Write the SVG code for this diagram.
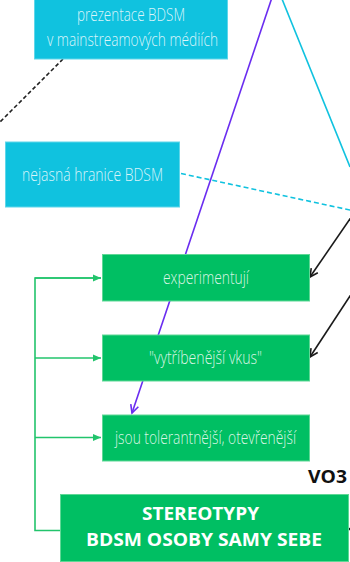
<svg xmlns="http://www.w3.org/2000/svg" width="350" height="562" viewBox="0 0 350 562">
<style>
.cy{fill:#10c2df;stroke:#5fd6ea;stroke-width:1}
.gr{fill:#00bf63;stroke:#5fd896;stroke-width:1}
.lt{font-family:"Open Sans","Liberation Sans",sans-serif;font-weight:300;font-size:18px;fill:#ffffff;fill-opacity:0.85}
.bd{font-family:"Open Sans","Liberation Sans",sans-serif;font-weight:700;font-size:18px;fill:#ffffff}
.gc{stroke:#22c46c;stroke-width:1.6;fill:none}
</style>
<defs>
<marker id="ab" markerUnits="userSpaceOnUse" markerWidth="12" markerHeight="12" refX="10" refY="6" orient="auto"><path d="M2,2 L10,6 L2,10" fill="none" stroke="#1a1a1a" stroke-width="1.6"/></marker>
<marker id="ap" markerUnits="userSpaceOnUse" markerWidth="12" markerHeight="12" refX="10" refY="6" orient="auto"><path d="M2,2 L10,6 L2,10" fill="none" stroke="#6a2cf0" stroke-width="1.6"/></marker>
<marker id="ag" markerUnits="userSpaceOnUse" markerWidth="10" markerHeight="10" refX="8" refY="5" orient="auto"><path d="M0,1.5 L8,5 L0,8.5 Z" fill="#22c46c"/></marker>
</defs>
<g id="connectors">
<line x1="63" y1="59" x2="0" y2="122" stroke="#222" stroke-width="1.6" stroke-dasharray="4,2.5"/>
<line x1="181" y1="173.5" x2="352" y2="210.5" stroke="#10c2df" stroke-width="1.6" stroke-dasharray="5,3"/>
<line x1="282" y1="-1" x2="350" y2="167" stroke="#10c2df" stroke-width="1.6"/>
<line x1="271.5" y1="-1" x2="132" y2="413" stroke="#6a2cf0" stroke-width="1.6" marker-end="url(#ap)"/>
<line x1="352" y1="216" x2="310" y2="277" stroke="#1a1a1a" stroke-width="1.6" marker-end="url(#ab)"/>
<line x1="352" y1="293" x2="310" y2="357" stroke="#1a1a1a" stroke-width="1.6" marker-end="url(#ab)"/>
<line x1="360" y1="529" x2="349" y2="529" stroke="#1a1a1a" stroke-width="1.6" marker-end="url(#ab)"/>
<path class="gc" d="M60,530.5 L35,530.5 L35,278 L101,278"/>
<path class="gc" d="M35,278 L101,278" marker-end="url(#ag)"/>
<path class="gc" d="M35,358 L101,358" marker-end="url(#ag)"/>
<path class="gc" d="M35,437.5 L101,437.5" marker-end="url(#ag)"/>
</g>
<g id="n-media">
<rect class="cy" x="34.5" y="-5" width="193" height="64"/>
<text class="lt" x="77" y="20.5" textLength="108" lengthAdjust="spacingAndGlyphs">prezentace BDSM</text>
<text class="lt" x="47" y="45.5" textLength="171" lengthAdjust="spacingAndGlyphs">v mainstreamových médiích</text>
</g>
<g id="n-hranice">
<rect class="cy" x="5.5" y="142" width="174" height="65"/>
<text class="lt" x="22" y="180.5" textLength="141" lengthAdjust="spacingAndGlyphs">nejasná hranice BDSM</text>
</g>
<g id="n-experimentuji">
<rect class="gr" x="102.5" y="254.5" width="207" height="46.5"/>
<text class="lt" x="163" y="283.5" textLength="86" lengthAdjust="spacingAndGlyphs">experimentují</text>
</g>
<g id="n-vkus">
<rect class="gr" x="102.5" y="335" width="207" height="46"/>
<text class="lt" x="149" y="363.5" textLength="113" lengthAdjust="spacingAndGlyphs">"vytříbenější vkus"</text>
</g>
<g id="n-tolerantnejsi">
<rect class="gr" x="102.5" y="415" width="207" height="46"/>
<text class="lt" x="115" y="443.5" textLength="181" lengthAdjust="spacingAndGlyphs">jsou tolerantnější, otevřenější</text>
</g>
<g id="n-stereotypy">
<rect class="gr" x="60.5" y="494.5" width="288" height="67"/>
<text class="bd" x="142" y="520" textLength="117" lengthAdjust="spacingAndGlyphs">STEREOTYPY</text>
<text class="bd" x="86" y="546" textLength="236" lengthAdjust="spacingAndGlyphs">BDSM OSOBY SAMY SEBE</text>
</g>
<g id="label-vo3">
<text x="308" y="483" font-family="Open Sans, Liberation Sans, sans-serif" font-weight="700" font-size="18" fill="#111" textLength="39" lengthAdjust="spacingAndGlyphs">VO3</text>
</g>
</svg>
